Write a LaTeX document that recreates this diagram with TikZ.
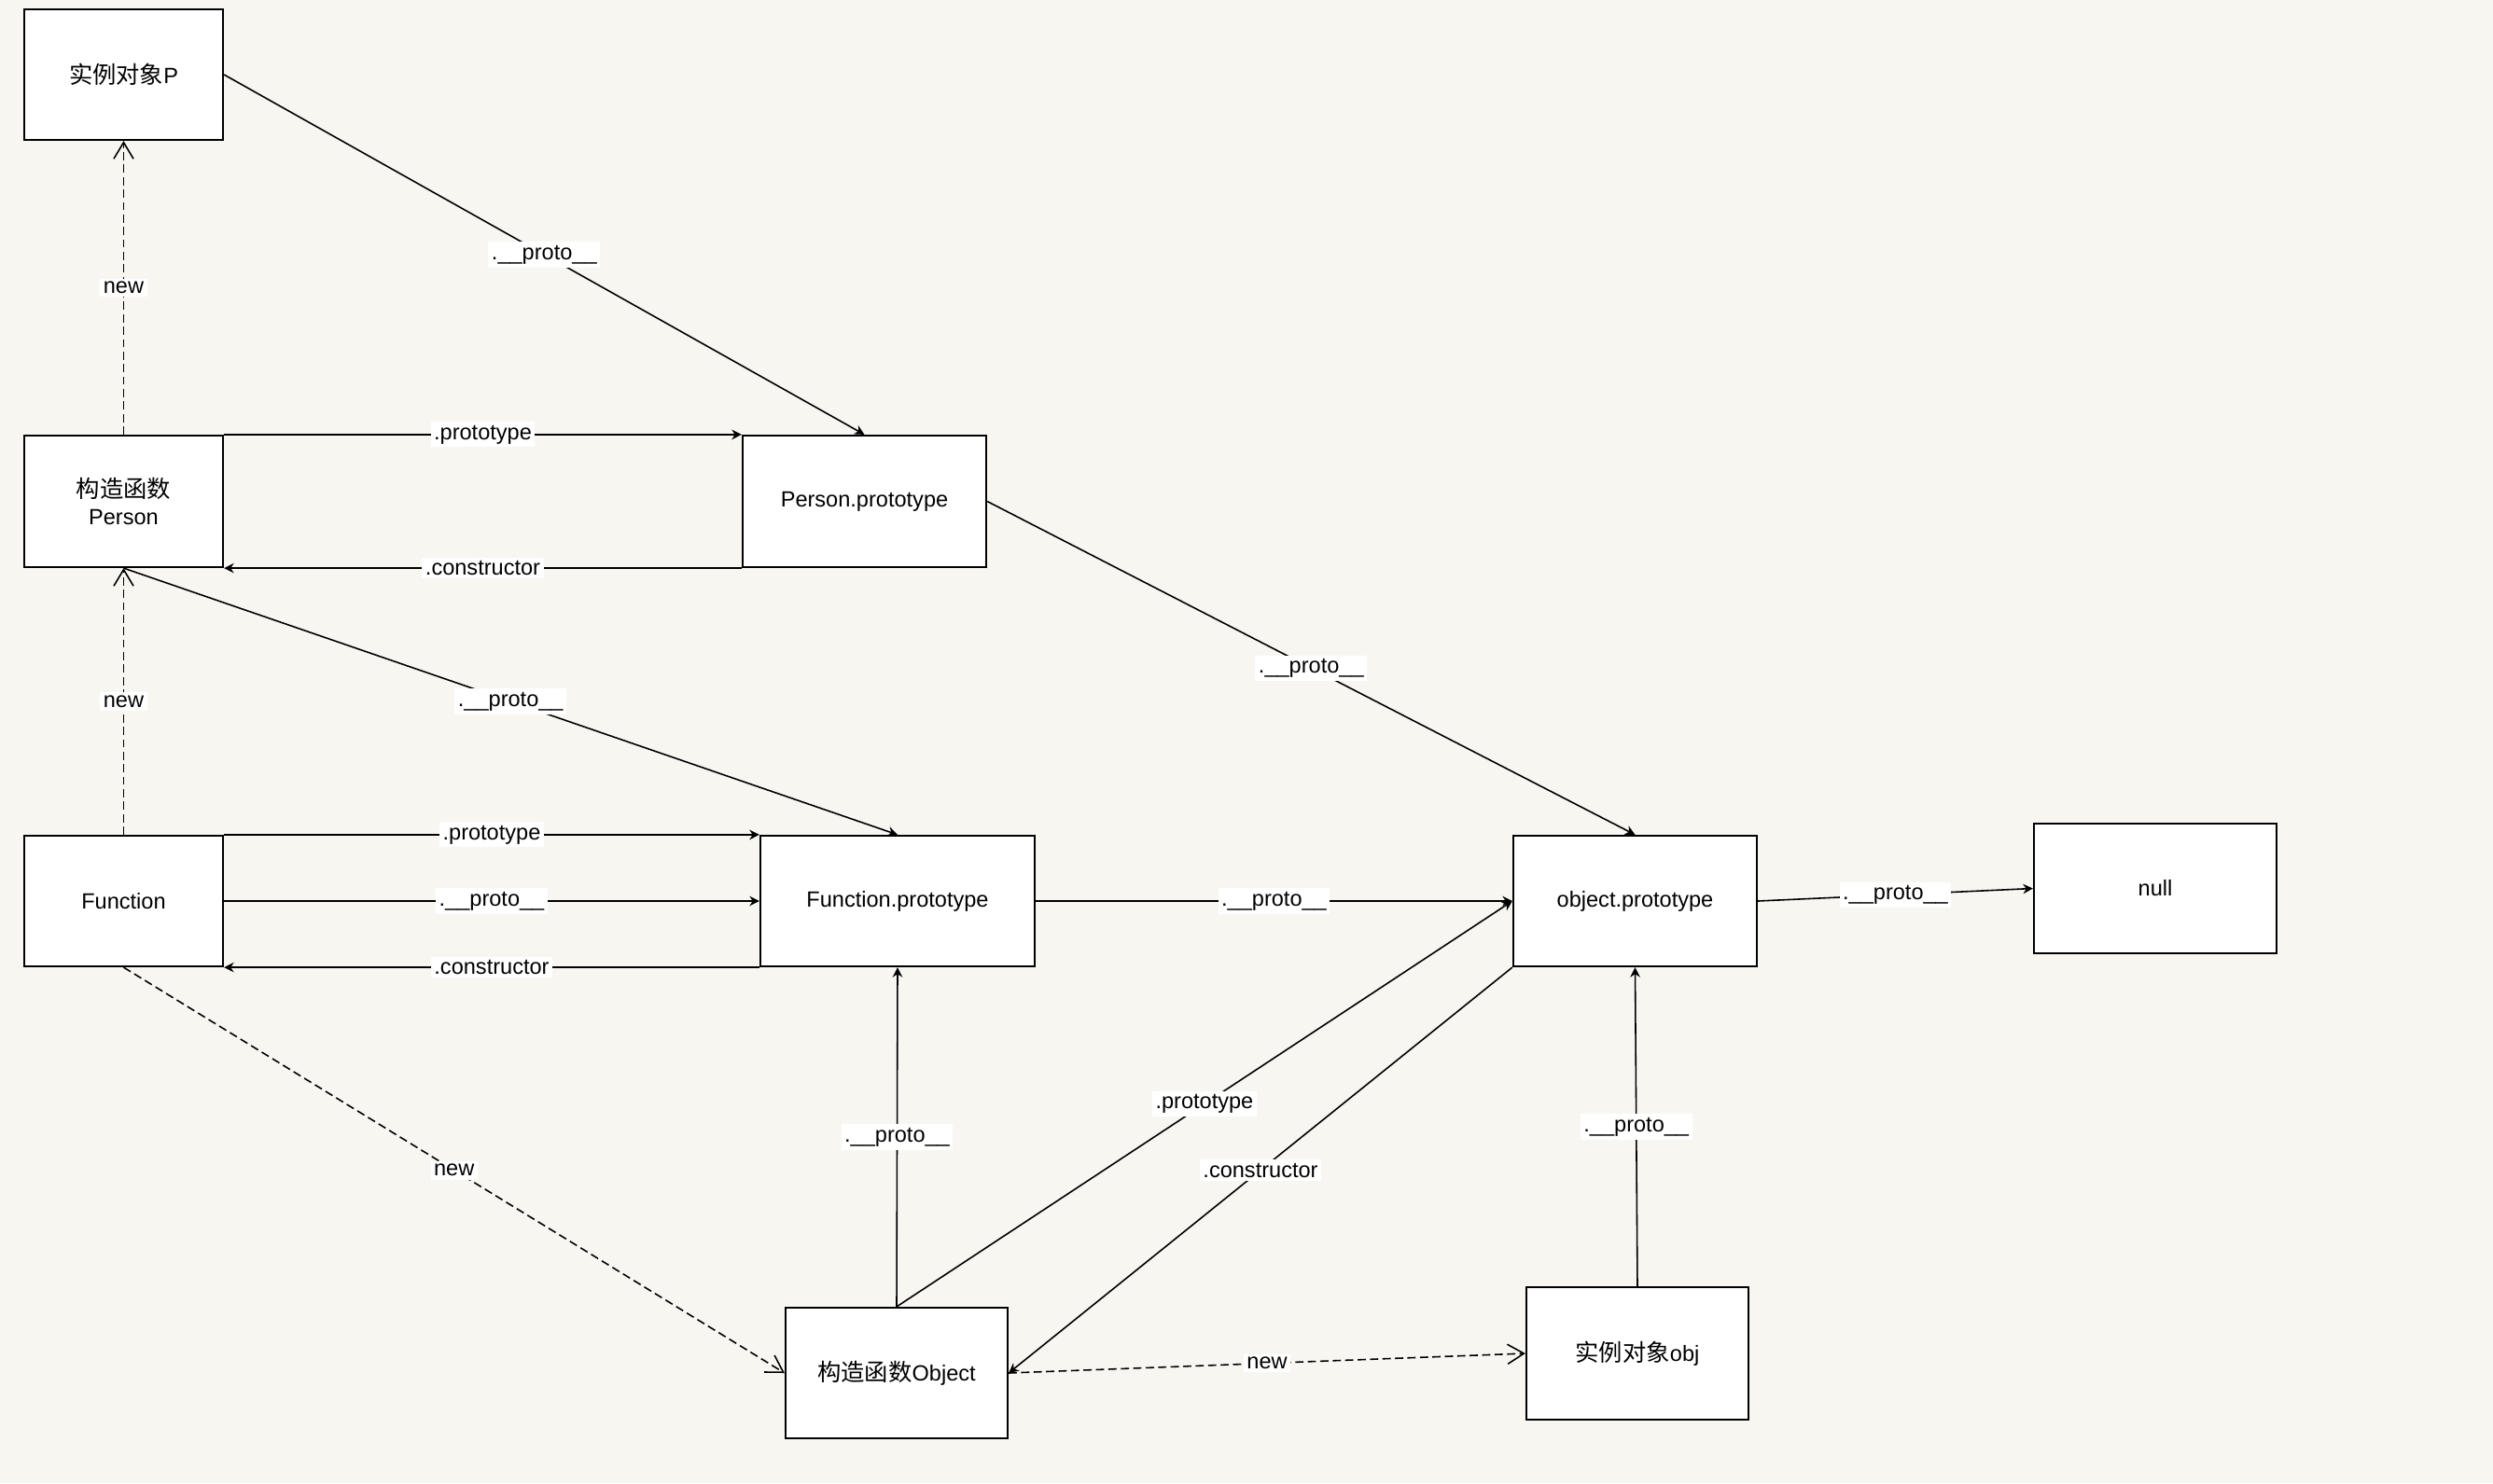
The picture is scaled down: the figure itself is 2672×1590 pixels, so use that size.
\documentclass[tikz,border=0pt]{standalone}
\usepackage{fontspec}
\setmainfont{Liberation Sans}
\newfontfamily\cjkfam{Noto Sans CJK SC}
\newcommand\zhtxt[1]{{\cjkfam\fontsize{7.2}{8.3}\selectfont #1}}
\usetikzlibrary{arrows.meta}
\definecolor{bgc}{RGB}{247,246,241}
\begin{document}
\begin{tikzpicture}[x=0.01cm,y=-0.01cm,
  box/.style={draw,fill=white,line width=0.6pt,rectangle,inner sep=0pt,align=center,font=\fontsize{6.7}{8.3}\selectfont},
  conn/.style={line width=0.45pt,-{Stealth[length=3pt,width=3pt]}},
  newc/.style={line width=0.45pt,dash pattern=on 2.5pt off 1.3pt,-{Straight Barb[length=5pt,width=6pt]}},
  lbl/.style={fill=white,inner sep=1pt,font=\fontsize{6.7}{8}\selectfont}]
\fill[bgc] (0,0) rectangle (2672,1590);
% nodes
\node[box,minimum width=2.13cm,minimum height=1.40cm] (P) at (132.5,80) {\zhtxt{实例对象}P};
\node[box,minimum width=2.13cm,minimum height=1.41cm] (Person) at (132.5,537.5) {\zhtxt{构造函数}\\Person};
\node[box,minimum width=2.61cm,minimum height=1.41cm] (PP) at (926.5,537.5) {Person.prototype};
\node[box,minimum width=2.13cm,minimum height=1.40cm] (F) at (132.5,966) {Function};
\node[box,minimum width=2.94cm,minimum height=1.40cm] (FP) at (962,966) {Function.prototype};
\node[box,minimum width=2.61cm,minimum height=1.40cm] (OP) at (1752.5,966) {object.prototype};
\node[box,minimum width=2.60cm,minimum height=1.39cm] (N) at (2310,952.5) {null};
\node[box,minimum width=2.38cm,minimum height=1.40cm] (OC) at (961,1472) {\zhtxt{构造函数}Object};
\node[box,minimum width=2.38cm,minimum height=1.42cm] (OBJ) at (1755,1451) {\zhtxt{实例对象}obj};
% connectors
\draw[newc] (Person.north) -- node[lbl,midway] {new} (P.south);
\draw[conn] (P.east) -- node[lbl,midway] {.\_\_proto\_\_} (PP.north);
\draw[conn] (Person.north east) -- node[lbl,midway] {.prototype} (PP.north west);
\draw[conn] (PP.south west) -- node[lbl,midway] {.constructor} (Person.south east);
\draw[newc] (F.north) -- node[lbl,midway] {new} (Person.south);
\draw[conn] (Person.south) -- node[lbl,midway] {.\_\_proto\_\_} (FP.north);
\draw[conn] (F.north east) -- node[lbl,midway] {.prototype} (FP.north west);
\draw[conn] (F.east) -- node[lbl,midway] {.\_\_proto\_\_} (FP.west);
\draw[conn] (FP.south west) -- node[lbl,midway] {.constructor} (F.south east);
\draw[conn] (PP.east) -- node[lbl,midway] {.\_\_proto\_\_} (OP.north);
\draw[conn] (FP.east) -- node[lbl,midway] {.\_\_proto\_\_} (OP.west);
\draw[conn] (OP.east) -- node[lbl,midway] {.\_\_proto\_\_} (N.west);
\draw[newc] (F.south) -- node[lbl,midway] {new} (OC.west);
\draw[conn] (OC.north) -- node[lbl,midway] {.\_\_proto\_\_} (FP.south);
\draw[conn] (OC.north) -- node[lbl,midway] {.prototype} (OP.west);
\draw[conn] (OP.south west) -- node[lbl,midway] {.constructor} (OC.east);
\draw[newc] (OC.east) -- node[lbl,midway] {new} (OBJ.west);
\draw[conn] (OBJ.north) -- node[lbl,midway] {.\_\_proto\_\_} (OP.south);
\end{tikzpicture}
\end{document}
